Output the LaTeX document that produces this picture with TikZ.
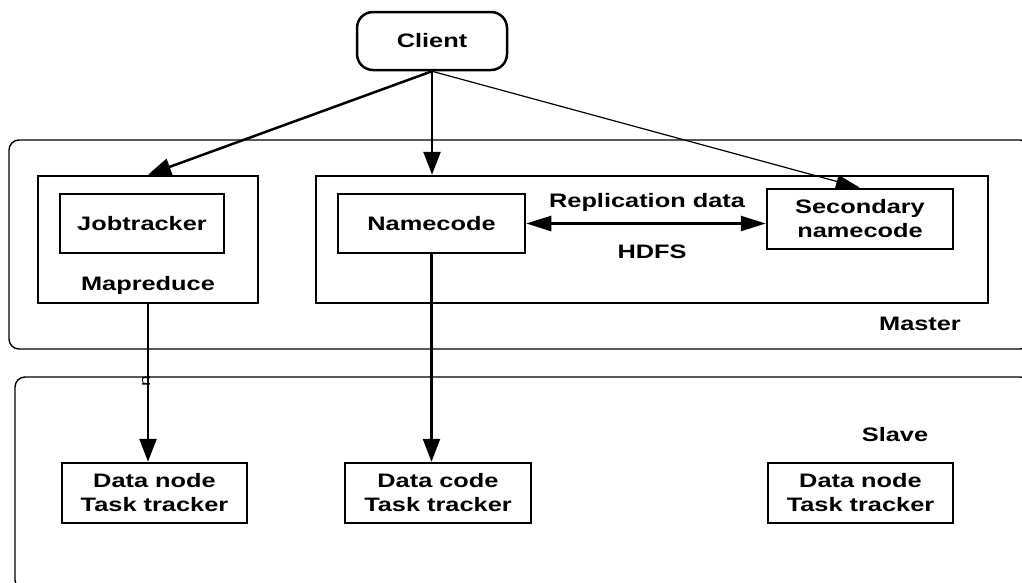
\documentclass[tikz,border=0pt]{standalone}
\usepackage{fontspec}
\setmainfont{Liberation Sans}[FakeStretch=1.3]
\usetikzlibrary{arrows.meta}
\tikzset{
  box/.style={draw, line width=2.5pt, inner sep=0pt, align=center,
    font=\fontsize{19.5}{24}\selectfont\bfseries},
  group/.style={draw, line width=1.4pt, rounded corners=10pt, inner sep=0pt},
  lbl/.style={inner sep=0pt, font=\fontsize{19.5}{24}\selectfont\bfseries},
  bigarrow/.style={line width=2.5pt, -{Triangle[length=23pt,width=17pt]}},
  thinarrow/.style={line width=1.2pt, -{Triangle[length=24pt,width=13pt]}},
  dblarrow/.style={line width=2.5pt, {Triangle[length=25pt,width=15pt]}-{Triangle[length=25pt,width=15pt]}}
}
\begin{document}
\begin{tikzpicture}[x=1pt, y=-1pt]
\useasboundingbox (0,0) rectangle (1022,582);
\clip (0,0) rectangle (1022,582);

% containers
\node[group, minimum width=1021pt, minimum height=209pt] (master) at (519.5,244.5) {};
\node[group, minimum width=1015pt, minimum height=213pt] (slave) at (522.5,483.5) {};

% client
\node[box, rounded corners=16pt, minimum width=150pt, minimum height=58pt] (client) at (432,41) {Client};

% master side
\node[box, minimum width=220pt, minimum height=127pt] (mapred) at (148,239.5) {};
\node[box, minimum width=164pt, minimum height=59pt] (jobtr) at (142,223.5) {Jobtracker};
\node[lbl] (mapredlbl) at (148,285) {Mapreduce};

\node[box, minimum width=672pt, minimum height=127pt] (hdfs) at (652,239.5) {};
\node[box, minimum width=187pt, minimum height=59pt] (namecode) at (431.5,223.5) {Namecode};
\node[box, minimum width=186pt, minimum height=60pt] (secondary) at (860,219) {Secondary\\namecode};
\node[lbl] (repl) at (647,202) {Replication data};
\node[lbl] (hdfslbl) at (652,252) {HDFS};
\node[lbl] (masterlbl) at (920,324) {Master};

% slave side
\node[lbl] (slavelbl) at (895,435) {Slave};
\node[box, minimum width=185pt, minimum height=60pt] (dn1) at (154.5,493) {Data node\\Task tracker};
\node[box, minimum width=186pt, minimum height=60pt] (dn2) at (438,493) {Data code\\Task tracker};
\node[box, minimum width=185pt, minimum height=60pt] (dn3) at (860.5,493) {Data node\\Task tracker};

% connectors
\draw[bigarrow] (client.south) -- (mapred.north);
\draw[bigarrow] (client.south) -- (hdfs.north -| client.south);
\draw[thinarrow] (client.south) -- (secondary.north);
\draw[dblarrow] (namecode.east) -- (namecode.east -| secondary.west);
\draw[bigarrow] (mapred.south) -- (dn1.north -| mapred.south);
\draw[bigarrow] (namecode.south) -- (dn2.north -| namecode.south);

% small mark on the Mapreduce connector
\node[inner sep=0pt, rotate=90, font=\fontsize{15}{15}\selectfont] (mark) at (146,381) {n};
\end{tikzpicture}
\end{document}
